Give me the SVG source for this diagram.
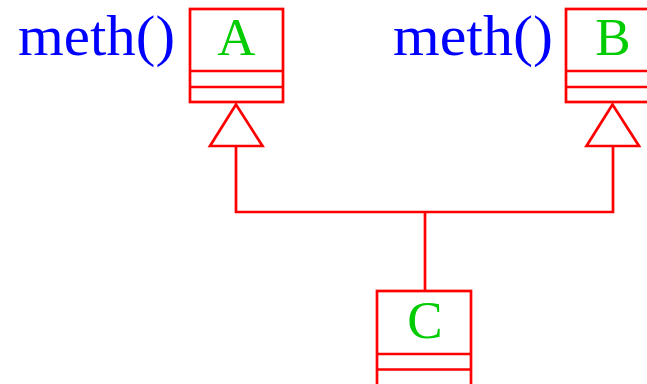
<svg xmlns="http://www.w3.org/2000/svg" width="647" height="384" viewBox="0 0 647 384">
  <style>
    .box { fill: none; stroke: #ff0000; stroke-width: 2.7; }
    .wire { fill: none; stroke: #ff0000; stroke-width: 2.7; }
    .head { fill: #ffffff; stroke: #ff0000; stroke-width: 2.7; stroke-linejoin: miter; }
    .cls { font-family: "Liberation Serif", "DejaVu Serif", serif; font-size: 53px; fill: #00cc00; text-anchor: middle; }
    .op { font-family: "Liberation Serif", "DejaVu Serif", serif; font-size: 56px; fill: #0000ff; }
  </style>

  <!-- class A with its operation -->
  <g id="classA">
    <rect class="box" x="190" y="9" width="93" height="93"/>
    <line class="box" x1="190" y1="71" x2="283" y2="71"/>
    <line class="box" x1="190" y1="87" x2="283" y2="87"/>
    <text class="cls" x="236.5" y="55">A</text>
    <text class="op" x="18" y="55" textLength="157" lengthAdjust="spacingAndGlyphs">meth()</text>
  </g>

  <!-- class B with its operation -->
  <g id="classB">
    <rect class="box" x="566" y="9" width="93" height="93"/>
    <line class="box" x1="566" y1="71" x2="659" y2="71"/>
    <line class="box" x1="566" y1="87" x2="659" y2="87"/>
    <text class="cls" x="613" y="55">B</text>
    <text class="op" x="393" y="55" textLength="160" lengthAdjust="spacingAndGlyphs">meth()</text>
  </g>

  <!-- class C -->
  <g id="classC">
    <rect class="box" x="377" y="291" width="94" height="100"/>
    <line class="box" x1="377" y1="354" x2="471" y2="354"/>
    <line class="box" x1="377" y1="369.5" x2="471" y2="369.5"/>
    <text class="cls" x="425" y="338">C</text>
  </g>

  <!-- generalization connectors -->
  <g id="connectors">
    <polyline class="wire" points="236,146 236,212 613,212 613,146"/>
    <line class="wire" x1="425" y1="212" x2="425" y2="291"/>
    <polygon class="head" points="236,104.5 210,146 262.5,146"/>
    <polygon class="head" points="612.5,104.5 586.5,146 639,146"/>
  </g>
</svg>
